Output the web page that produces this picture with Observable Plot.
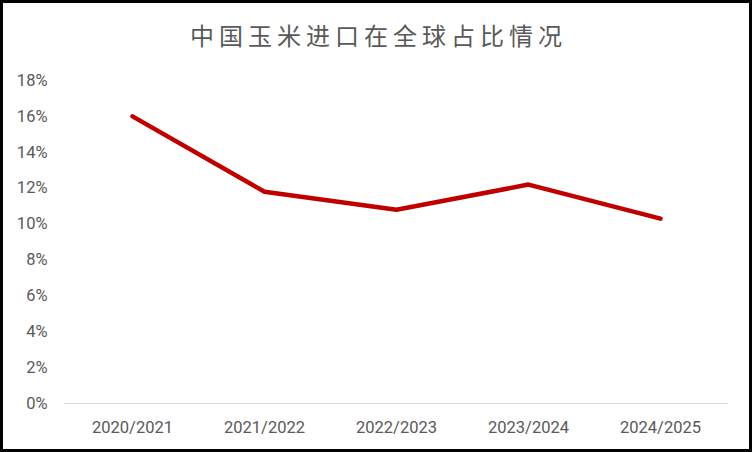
<!DOCTYPE html>
<html>
<head>
<meta charset="utf-8">
<script src="https://cdn.jsdelivr.net/npm/d3@7"></script>
<script src="https://cdn.jsdelivr.net/npm/@observablehq/plot@0.6"></script>
<style>
  html, body { margin: 0; padding: 0; background: #fff; }
  #wrap { position: relative; width: 752px; height: 452px; background: #fff; overflow: hidden; }
  #title { position: absolute; left: 0; top: 0; width: 752px; height: 60px; box-sizing: border-box;
    padding-left: 5px; padding-top: 17px; text-align: center; font-family: "Noto Sans CJK SC", sans-serif;
    font-size: 24px; line-height: 36px; letter-spacing: 5px; color: #595959; }
  #chart { position: absolute; left: 0; top: 60px; }
  #frame { position: absolute; left: 0; top: 0; width: 752px; height: 452px; box-sizing: border-box;
    border: 3px solid #000; pointer-events: none; }
</style>
</head>
<body>
<div id="wrap">
  <div id="title">中国玉米进口在全球占比情况</div>
  <div id="chart"></div>
  <div id="frame"></div>
</div>
<script>
const seasons = ["2020/2021", "2021/2022", "2022/2023", "2023/2024", "2024/2025"];
const shares = [0.160, 0.118, 0.108, 0.122, 0.103];
const yTicks = [0, 0.02, 0.04, 0.06, 0.08, 0.10, 0.12, 0.14, 0.16, 0.18];

const data = seasons.map((s, i) => ({season: s, share: shares[i]}));

const chart = Plot.plot({
  width: 752,
  height: 390,
  marginTop: 20,
  marginBottom: 47,
  marginLeft: 64,
  marginRight: 24,
  style: {fontFamily: "Roboto, sans-serif", fontSize: "16.5px", color: "#595959", background: "transparent"},
  x: {type: "point", domain: seasons, padding: 0.5, label: null},
  y: {domain: [0, 0.18], label: null},
  marks: [
    Plot.axisY({ticks: yTicks, tickFormat: d => Math.round(d * 100) + "%", tickSize: 0, tickPadding: 17,
      fill: "#595959", label: null}),
    Plot.axisX({tickSize: 0, tickPadding: 18, fill: "#595959", label: null}),
    Plot.ruleY([0], {stroke: "#D9D9D9", strokeWidth: 1}),
    Plot.line(data, {x: "season", y: "share", stroke: "#C00000", strokeWidth: 4.5,
      strokeLinecap: "round", strokeLinejoin: "round"})
  ]
});
document.getElementById("chart").appendChild(chart);
</script>
</body>
</html>
